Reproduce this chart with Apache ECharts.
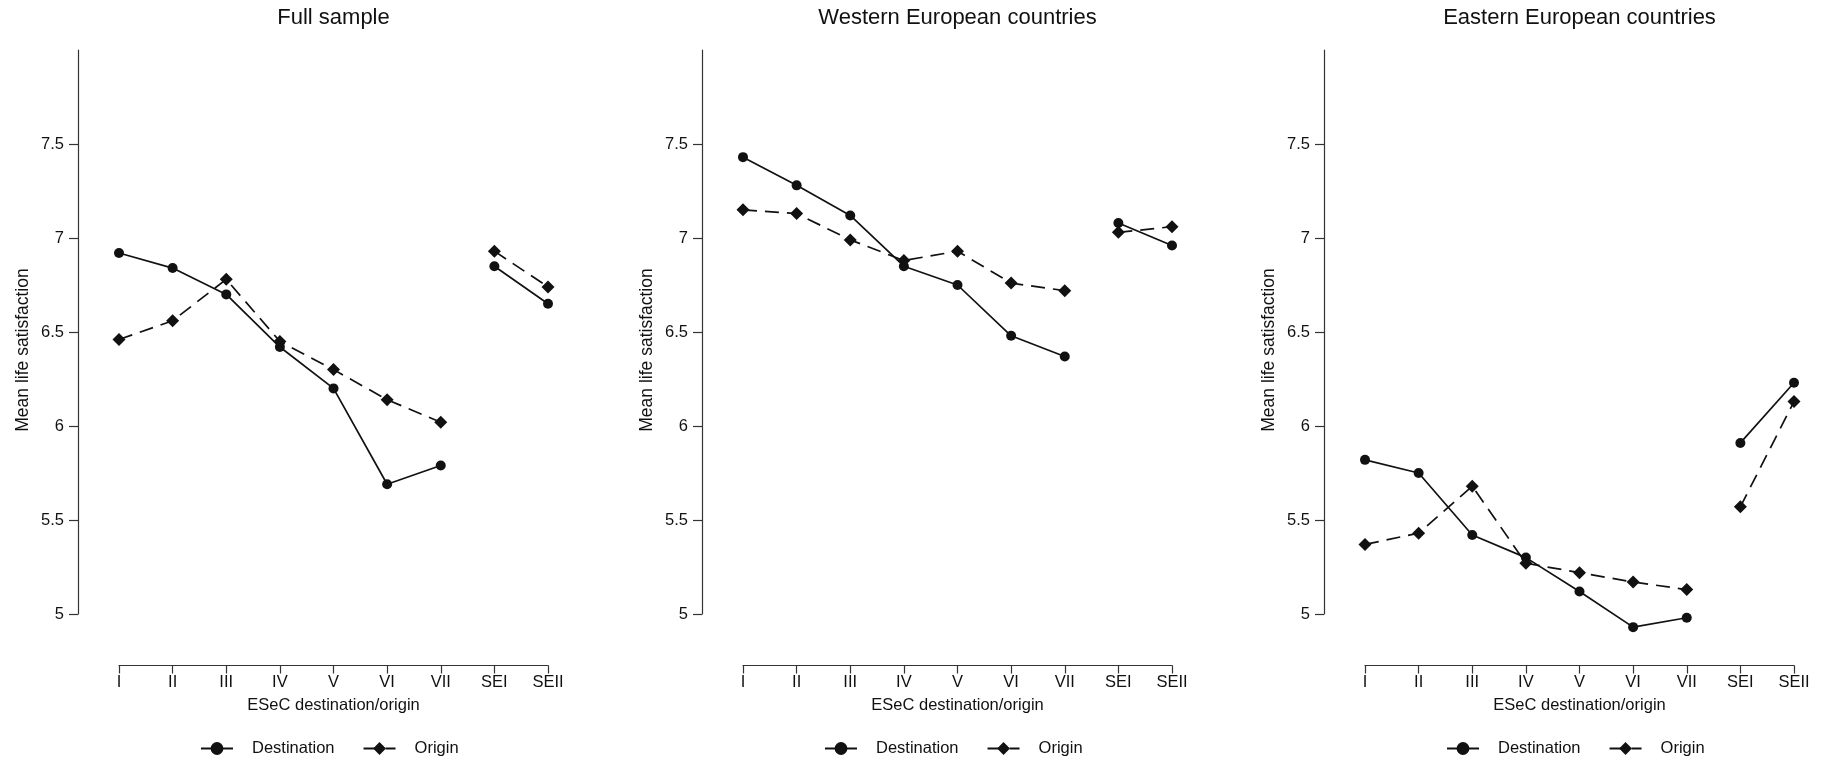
<!DOCTYPE html>
<html><head><meta charset="utf-8">
<script src="https://cdn.jsdelivr.net/npm/echarts@6/dist/echarts.min.js"></script>
<style>html,body{margin:0;padding:0;background:#fff}#c{width:1827px;height:762px}</style>
</head><body><div id="c"></div>
<script>
const categories = ['I','II','III','IV','V','VI','VII','SEI','SEII'];
const panelTitles = ['Full sample','Western European countries','Eastern European countries'];
const yTicks = [5,5.5,6,6.5,7,7.5];
const xAxisName = 'ESeC destination/origin';
const yAxisName = 'Mean life satisfaction';
const seriesNames = ['Destination','Origin'];
const fullDest = [6.92,6.84,6.70,6.42,6.20,5.69,5.79,6.85,6.65];
const fullOrig = [6.46,6.56,6.78,6.45,6.30,6.14,6.02,6.93,6.74];
const westDest = [7.43,7.28,7.12,6.85,6.75,6.48,6.37,7.08,6.96];
const westOrig = [7.15,7.13,6.99,6.88,6.93,6.76,6.72,7.03,7.06];
const eastDest = [5.82,5.75,5.42,5.30,5.12,4.93,4.98,5.91,6.23];
const eastOrig = [5.37,5.43,5.68,5.27,5.22,5.17,5.13,5.57,6.13];

const panels = [[fullDest, fullOrig],[westDest, westOrig],[eastDest, eastOrig]];
const FONT = '"Liberation Sans", Arial, Helvetica, sans-serif';
const INK = '#111';
const gridLefts = [119, 743, 1365];
const gridW = 429;
const gridTop = 50, gridH = 564;
const yAxisOffset = 41;

const grids = [], xAxes = [], yAxes = [], series = [], legends = [], graphics = [];
const segMain = i => i <= 6;
const segSE = i => i >= 7;

panels.forEach((p, k) => {
  const L = gridLefts[k];
  grids.push({left: L, top: gridTop, width: gridW, height: gridH, containLabel: false});
  xAxes.push({
    gridIndex: k, type: 'category', data: categories, boundaryGap: false,
    position: 'bottom', offset: 51.5,
    name: xAxisName, nameLocation: 'middle', nameGap: 31,
    nameTextStyle: {fontFamily: FONT, fontSize: 16.5, color: INK},
    axisLine: {show: true, lineStyle: {color: '#333', width: 1.2}},
    axisTick: {show: true, length: 8, alignWithLabel: true, lineStyle: {color: '#333', width: 1.2}},
    axisLabel: {fontFamily: FONT, fontSize: 16.5, color: INK, margin: 8, interval: 0},
    splitLine: {show: false}
  });
  yAxes.push({
    gridIndex: k, type: 'value', min: 5, max: 8, interval: 0.5,
    position: 'left', offset: yAxisOffset,
    axisLine: {show: true, lineStyle: {color: '#333', width: 1.2}},
    axisTick: {show: true, length: 9, customValues: yTicks, lineStyle: {color: '#333', width: 1.2}},
    axisLabel: {fontFamily: FONT, fontSize: 16.5, color: INK, margin: 14, customValues: yTicks},
    splitLine: {show: false}
  });
  const mk = (vals, name, sym, size, dashed, filt) => ({
    type: 'line', name: name, xAxisIndex: k, yAxisIndex: k,
    data: vals.map((v, i) => filt(i) ? v : null),
    symbol: sym, symbolSize: size, showSymbol: true, clip: false,
    connectNulls: false, animation: false,
    itemStyle: {color: INK, borderWidth: 0},
    lineStyle: {color: INK, width: 1.7, type: dashed ? [14, 8] : 'solid'},
    z: 3
  });
  series.push(mk(p[0], seriesNames[0], 'circle', 10, false, segMain));
  series.push(mk(p[0], seriesNames[0], 'circle', 10, false, segSE));
  series.push(mk(p[1], seriesNames[1], 'diamond', 13, true, segMain));
  series.push(mk(p[1], seriesNames[1], 'diamond', 13, true, segSE));
  legends.push({
    data: seriesNames, left: L + 76, top: 735, orient: 'horizontal',
    itemWidth: 32, itemHeight: 16, itemGap: 28, selectedMode: false,
    textStyle: {fontFamily: FONT, fontSize: 16.5, color: INK, padding: [0, 0, 0, 14]}
  });
  const cx = L + gridW / 2;
  graphics.push({type: 'text', x: cx, y: 18, style: {text: panelTitles[k], font: '22px ' + FONT, fill: INK, textAlign: 'center', textVerticalAlign: 'middle'}});
  graphics.push({type: 'text', x: L - yAxisOffset - 54.5, y: 350, rotation: Math.PI / 2, style: {text: yAxisName, font: '17.5px ' + FONT, fill: INK, textAlign: 'center', textVerticalAlign: 'middle'}});
});

const chart = echarts.init(document.getElementById('c'), null, {renderer: 'canvas'});
chart.setOption({
  animation: false, backgroundColor: '#fff',
  grid: grids, xAxis: xAxes, yAxis: yAxes, series: series, legend: legends,
  graphic: graphics
});
</script></body></html>
